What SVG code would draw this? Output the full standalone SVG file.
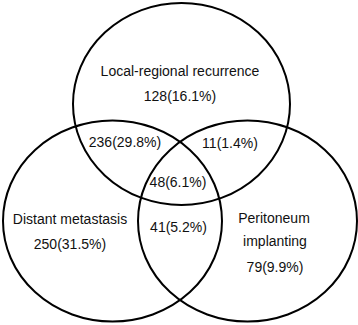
<svg xmlns="http://www.w3.org/2000/svg" width="358" height="325" viewBox="0 0 358 325">
<style>
.set{fill:none;stroke:#000;stroke-width:2}
text{font-family:"Liberation Sans",Arial,sans-serif;font-size:14px;fill:#111;text-anchor:middle}
</style>
<rect width="358" height="325" fill="#fff"/>
<g id="local-regional">
<ellipse class="set" cx="181.5" cy="104" rx="108.5" ry="101"/>
<text x="180" y="76">Local-regional recurrence</text>
<text x="180" y="101">128(16.1%)</text>
</g>
<g id="distant">
<ellipse class="set" cx="112.5" cy="221" rx="109.5" ry="100.5"/>
<text x="70" y="224">Distant metastasis</text>
<text x="70" y="249">250(31.5%)</text>
</g>
<g id="peritoneum">
<ellipse class="set" cx="247.5" cy="221" rx="109.5" ry="100.5"/>
<text x="274" y="223">Peritoneum</text>
<text x="275" y="246">implanting</text>
<text x="275" y="272">79(9.9%)</text>
</g>
<g id="overlaps">
<text x="125" y="147">236(29.8%)</text>
<text x="230" y="147.5">11(1.4%)</text>
<text x="178" y="187">48(6.1%)</text>
<text x="178.5" y="232">41(5.2%)</text>
</g>
</svg>
